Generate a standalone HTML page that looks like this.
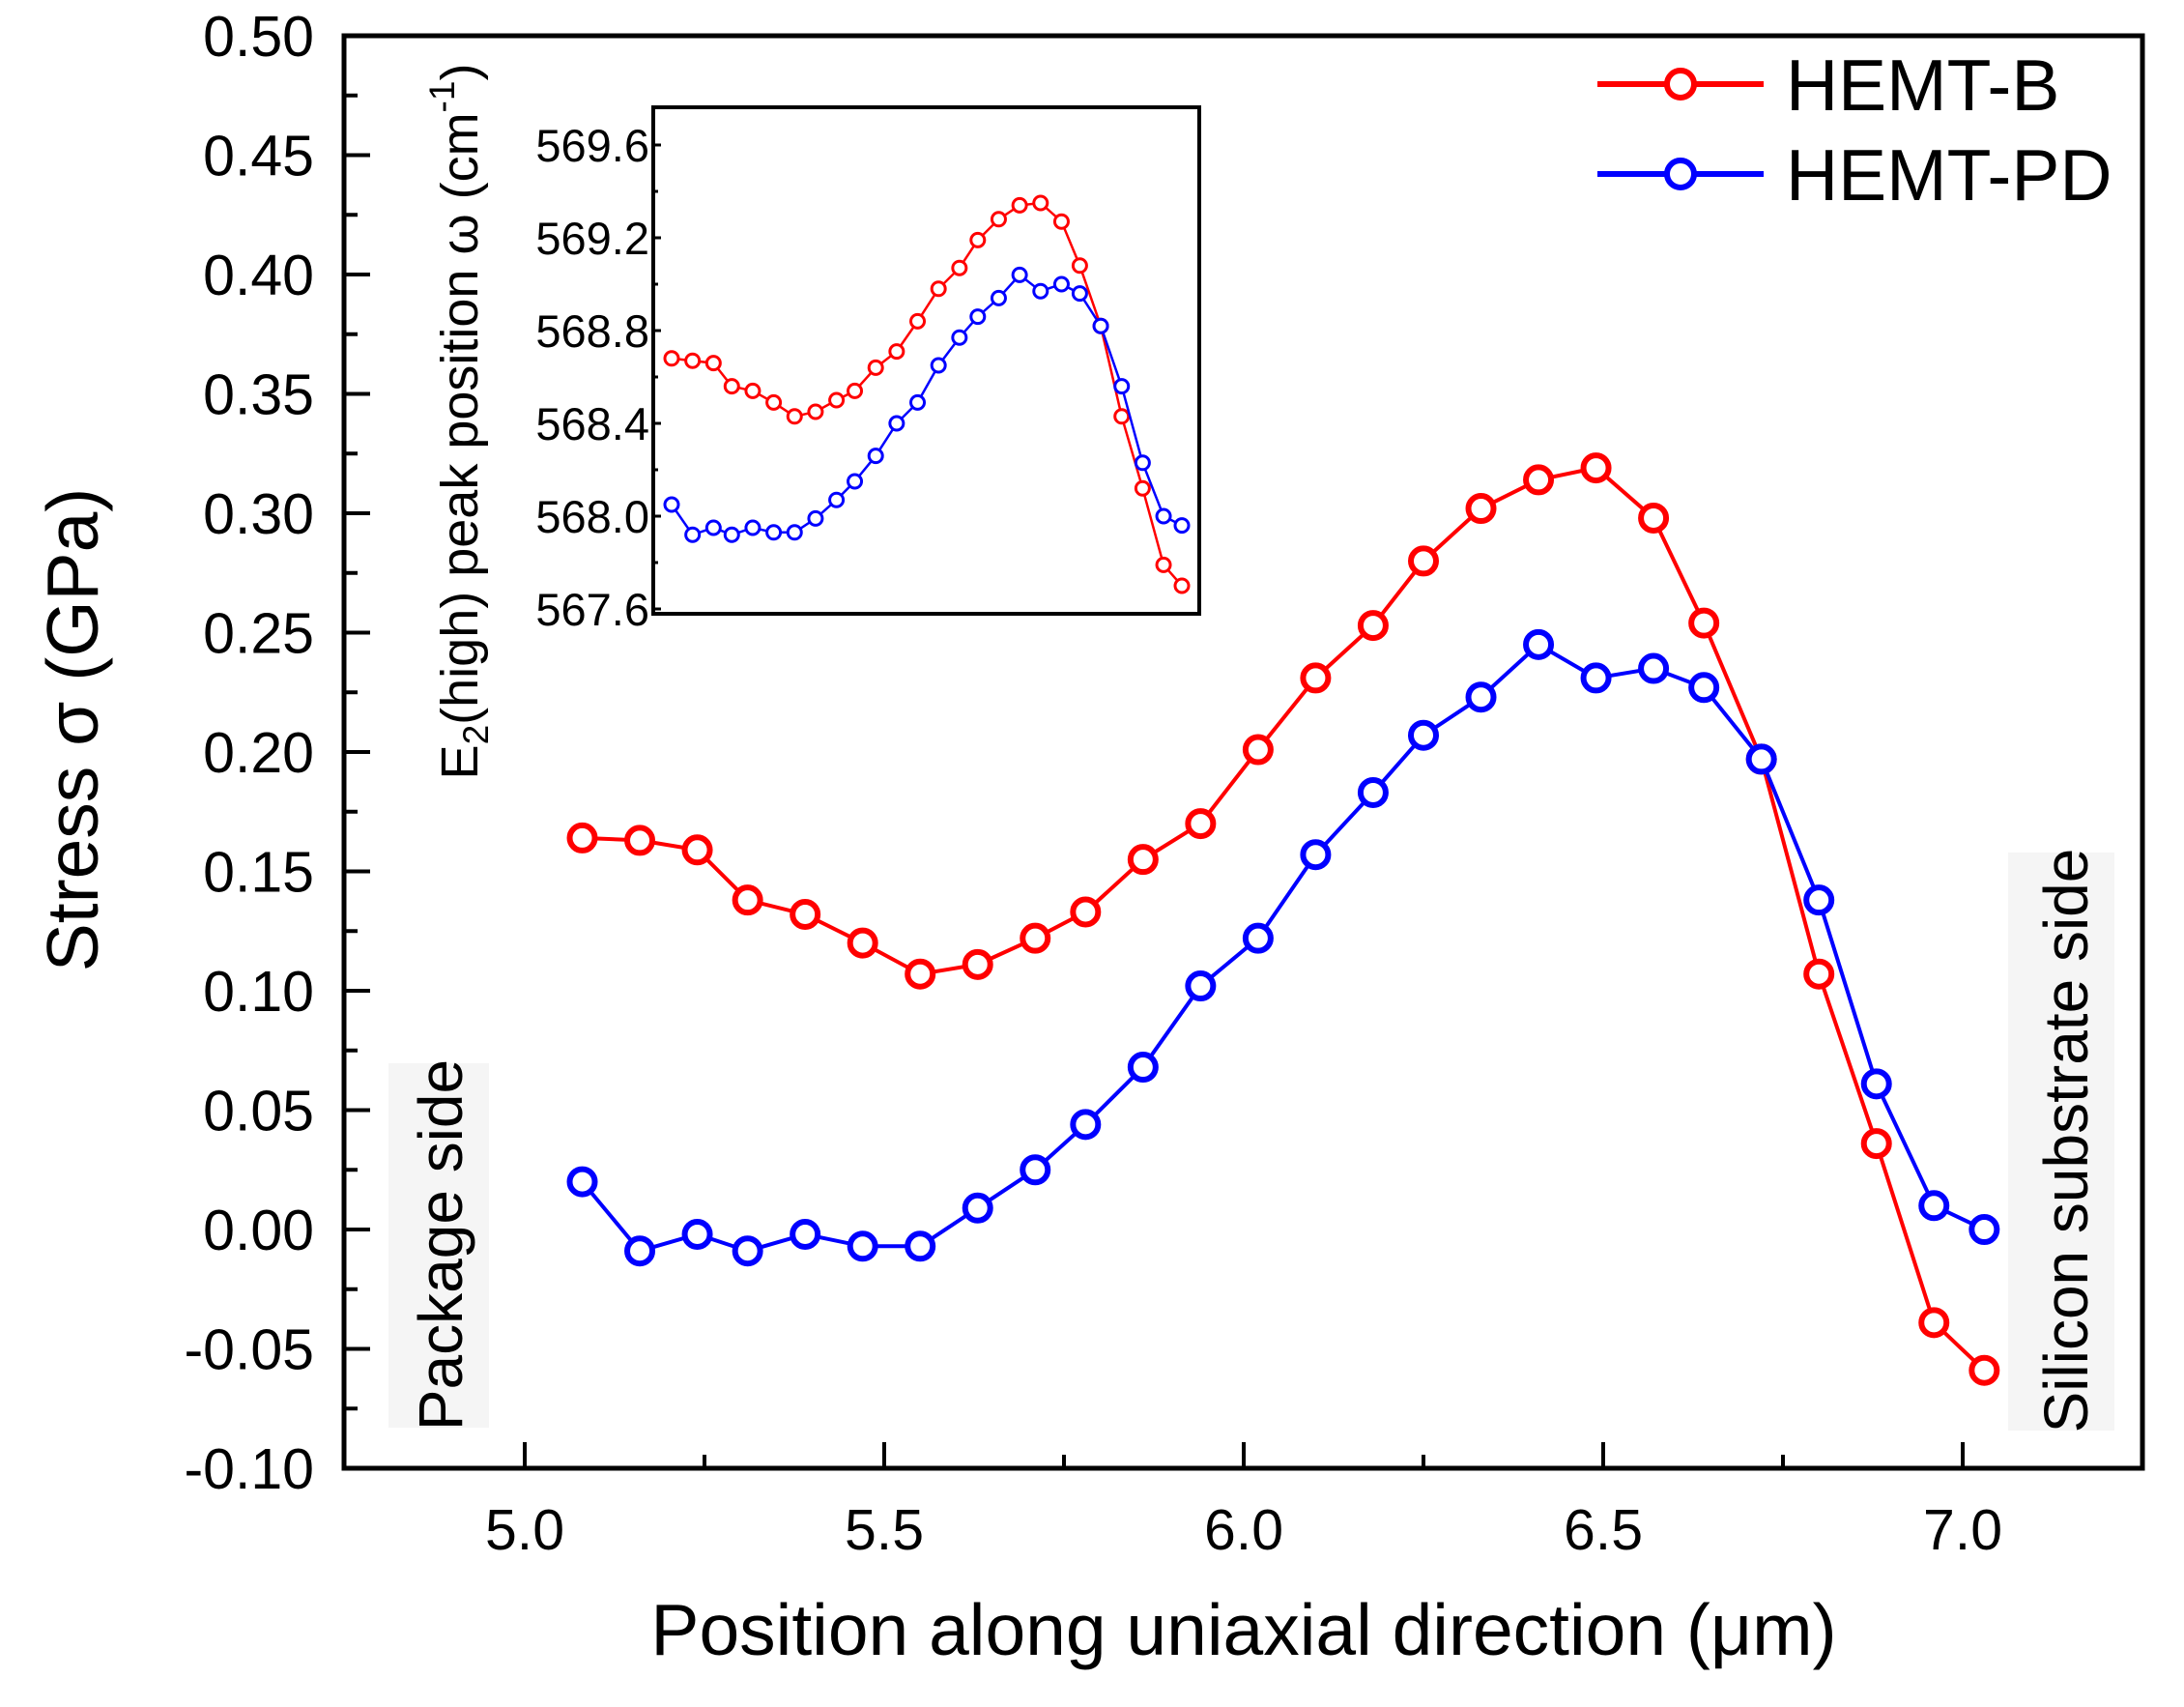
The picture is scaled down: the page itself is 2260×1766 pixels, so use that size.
<!DOCTYPE html>
<html><head><meta charset="utf-8">
<style>
html,body{margin:0;padding:0;background:#fff;}
svg{display:block;font-family:"Liberation Sans",Arial,sans-serif;}
</style></head>
<body>
<svg id="chart" width="2260" height="1766" viewBox="0 0 2260 1766" xmlns="http://www.w3.org/2000/svg">
  <rect x="0" y="0" width="2260" height="1766" fill="#fff"/>
  <rect x="402" y="1100" width="104" height="377" fill="#f5f5f5"/>
  <text x="0" y="0" transform="translate(478,1288) rotate(-90)" font-size="64" text-anchor="middle" fill="#000">Package side</text>
  <rect x="2078" y="882" width="110" height="598" fill="#f5f5f5"/>
  <text x="0" y="0" transform="translate(2160,1180) rotate(-90)" font-size="64" text-anchor="middle" fill="#000">Silicon substrate side</text>
  <g id="main"></g>
  <g id="inset"></g>
  <text x="0" y="0" transform="translate(101,755) rotate(-90)" font-size="75" text-anchor="middle" fill="#000">Stress σ (GPa)</text>
  <text x="1287" y="1712" font-size="75" text-anchor="middle" fill="#000">Position along uniaxial direction (μm)</text>
  <text x="0" y="0" transform="translate(494,436) rotate(-90)" font-size="54" text-anchor="middle" fill="#000">E<tspan font-size="37" dy="11">2</tspan><tspan dy="-11">(high) peak position ω (cm</tspan><tspan font-size="37" dy="-24">-1</tspan><tspan dy="24">)</tspan></text>
  <g>
    <line x1="1653" y1="87" x2="1825" y2="87" stroke="#ff0000" stroke-width="6"/>
    <circle cx="1739" cy="87" r="14" fill="#fff" stroke="#ff0000" stroke-width="6"/>
    <text x="1848" y="114" font-size="75" fill="#000">HEMT-B</text>
    <line x1="1653" y1="180" x2="1825" y2="180" stroke="#0000ff" stroke-width="6"/>
    <circle cx="1739" cy="180" r="14" fill="#fff" stroke="#0000ff" stroke-width="6"/>
    <text x="1848" y="207" font-size="75" fill="#000">HEMT-PD</text>
  </g>
</svg>
<script>
const positions = [5.08,5.16,5.24,5.31,5.39,5.47,5.55,5.63,5.71,5.78,5.86,5.94,6.02,6.10,6.18,6.25,6.33,6.41,6.49,6.57,6.64,6.72,6.80,6.88,6.96,7.03];
const stressB = [0.164,0.163,0.159,0.138,0.132,0.120,0.107,0.111,0.122,0.133,0.155,0.170,0.201,0.231,0.253,0.280,0.302,0.314,0.319,0.298,0.254,0.197,0.107,0.036,-0.039,-0.059];
const stressPD = [0.020,-0.009,-0.002,-0.009,-0.002,-0.007,-0.007,0.009,0.025,0.044,0.068,0.102,0.122,0.157,0.183,0.207,0.223,0.245,0.231,0.235,0.227,0.197,0.138,0.061,0.010,0.000];
const peakB = [568.68,568.67,568.66,568.56,568.54,568.49,568.43,568.45,568.50,568.54,568.64,568.71,568.84,568.98,569.07,569.19,569.28,569.34,569.35,569.27,569.08,568.82,568.43,568.12,567.79,567.70];
const peakPD = [568.05,567.92,567.95,567.92,567.95,567.93,567.93,567.99,568.07,568.15,568.26,568.40,568.49,568.65,568.77,568.86,568.94,569.04,568.97,569.00,568.96,568.82,568.56,568.23,568.00,567.96];
const yTicks = ["0.50","0.45","0.40","0.35","0.30","0.25","0.20","0.15","0.10","0.05","0.00","-0.05","-0.10"];
const xTicks = ["5.0","5.5","6.0","6.5","7.0"];
const insetTicks = ["569.6","569.2","568.8","568.4","568.0","567.6"];

const NS = "http://www.w3.org/2000/svg";
function mk(parent, tag, attrs, text) {
  const e = document.createElementNS(NS, tag);
  for (const k in attrs) e.setAttribute(k, attrs[k]);
  if (text !== undefined) e.textContent = text;
  parent.appendChild(e);
  return e;
}
const L = 356, R = 2217, T = 37, B = 1519;
const sx = v => 543 + (v - 5.0) * 744;
const sy = v => T + (0.50 - v) / 0.60 * (B - T);
const main = document.getElementById('main');

for (let i = 0; i <= 24; i++) {
  const v = 0.50 - i * 0.025;
  const y = sy(v);
  const major = i % 2 === 0;
  const t = mk(main, 'line', {x1: L, x2: L + (major ? 27 : 14), y1: y, y2: y, stroke: '#000', 'stroke-width': 4});
  
  
}
yTicks.forEach(s => {
  const v = parseFloat(s);
  const t = mk(main, 'text', {x: 325, y: sy(v) + 21, 'font-size': 59, 'text-anchor': 'end', fill: '#000'}, s);
  
  
});
for (let v = 4.75; v <= 7.26; v += 0.25) {
  const x = sx(v);
  if (x <= L + 2 || x >= R - 2) continue;
  const major = Math.abs(v * 2 - Math.round(v * 2)) < 1e-6;
  const t = mk(main, 'line', {x1: x, x2: x, y1: B, y2: B - (major ? 27 : 14), stroke: '#000', 'stroke-width': 4});
  
  
}
xTicks.forEach(s => {
  const v = parseFloat(s);
  const t = mk(main, 'text', {x: sx(v), y: 1603, 'font-size': 59, 'text-anchor': 'middle', fill: '#000'}, s);
  
  
});
const frame = mk(main, 'rect', {x: L, y: T, width: R - L, height: B - T, fill: 'none', stroke: '#000', 'stroke-width': 5});



function series(g, xs, ys, fx, fy, color, r, sw, lw, name) {
  const pts = xs.map((x, i) => fx(x) + ',' + fy(ys[i])).join(' ');
  const pl = mk(g, 'polyline', {points: pts, fill: 'none', stroke: color, 'stroke-width': lw});
  
  
  xs.forEach((x, i) => {
    const c = mk(g, 'circle', {cx: fx(x), cy: fy(ys[i]), r: r, fill: '#fff', stroke: color, 'stroke-width': sw});
    
    
  });
}
series(main, positions, stressB, sx, sy, '#ff0000', 13, 6, 4, 'hemt-b');
series(main, positions, stressPD, sx, sy, '#0000ff', 13, 6, 4, 'hemt-pd');

const iL = 676, iR = 1241, iT = 111, iB = 635;
const ix = v => 695 + (v - 5.08) / (7.03 - 5.08) * (1223 - 695);
const iy = v => 150 + (569.6 - v) / 2.0 * (630 - 150);
const inset = document.getElementById('inset');
mk(inset, 'rect', {x: iL, y: iT, width: iR - iL, height: iB - iT, fill: '#fff', stroke: 'none'});
for (let i = 0; i <= 10; i++) {
  const v = 569.6 - i * 0.2;
  const y = iy(v);
  if (y > iB) continue;
  const t = mk(inset, 'line', {x1: iL, x2: iL + (i % 2 === 0 ? 8 : 5), y1: y, y2: y, stroke: '#000', 'stroke-width': 3});
  
  
}
insetTicks.forEach(s => {
  const v = parseFloat(s);
  const t = mk(inset, 'text', {x: iL - 4, y: iy(v) + 17, 'font-size': 47, 'text-anchor': 'end', fill: '#000'}, s);
  
  
});
series(inset, positions, peakB, ix, iy, '#ff0000', 7, 3, 2.5, 'inset-hemt-b');
series(inset, positions, peakPD, ix, iy, '#0000ff', 7, 3, 2.5, 'inset-hemt-pd');
const ifr = mk(inset, 'rect', {x: iL, y: iT, width: iR - iL, height: iB - iT, fill: 'none', stroke: '#000', 'stroke-width': 4});


</script>
</body></html>
